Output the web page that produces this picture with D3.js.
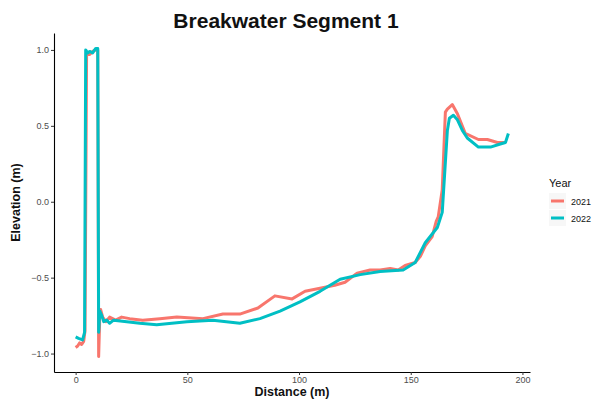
<!DOCTYPE html>
<html>
<head>
<meta charset="utf-8">
<script src="https://cdn.jsdelivr.net/npm/d3@7"></script>
<style>
  html, body { margin: 0; padding: 0; background: #fff; }
  svg { display: block; font-family: "Liberation Sans", Arial, sans-serif; }
</style>
</head>
<body>
<svg id="chart" width="603" height="405"></svg>
<script>
// Cross-shore profile surveys along Breakwater Segment 1
const dist2021 = [0, 0.9, 1.8, 2.7, 3.6, 4.2, 4.9, 6.3, 7.6, 9.0, 9.9, 10.3, 10.8, 11.2, 12.1, 13.5, 15.2, 17.9, 20.6, 24.2, 30.0, 37.7, 45.3, 57.0, 65.9, 73.5, 81.6, 89.2, 96.9, 102.7, 109.4, 116.0, 120.6, 126.0, 131.8, 136.3, 140.8, 144.4, 147.5, 152.0, 154.3, 156.5, 159.6, 161.4, 162.3, 164.1, 165.5, 166.4, 168.6, 170.9, 174.4, 180.3, 184.3, 188.8, 192.4];
const elev2021 = [-0.96, -0.95, -0.93, -0.94, -0.92, -0.85, 0.97, 0.97, 0.99, 1.0, 1.0, -1.02, -0.76, -0.71, -0.76, -0.79, -0.76, -0.78, -0.76, -0.77, -0.78, -0.77, -0.76, -0.77, -0.74, -0.74, -0.70, -0.62, -0.64, -0.59, -0.57, -0.55, -0.53, -0.47, -0.45, -0.45, -0.44, -0.45, -0.42, -0.40, -0.36, -0.29, -0.23, -0.13, -0.10, 0.08, 0.59, 0.61, 0.64, 0.58, 0.45, 0.41, 0.41, 0.39, 0.39];

const dist2022 = [0, 1.3, 3.1, 4.0, 4.5, 5.4, 6.3, 7.6, 9.0, 9.9, 10.3, 10.8, 11.7, 12.6, 13.9, 15.2, 17.0, 22.9, 28.7, 36.3, 49.8, 61.4, 73.5, 82.5, 91.5, 100.4, 109.4, 118.4, 127.4, 136.3, 146.6, 152.0, 156.5, 161.9, 164.1, 166.4, 167.3, 169.1, 170.9, 173.1, 175.3, 180.3, 185.7, 190.1, 192.4, 193.7];
const elev2022 = [-0.89, -0.90, -0.91, -0.86, 1.0, 0.98, 0.99, 0.98, 1.01, 1.01, -0.86, -0.72, -0.75, -0.79, -0.78, -0.80, -0.78, -0.79, -0.80, -0.81, -0.79, -0.78, -0.80, -0.77, -0.72, -0.66, -0.59, -0.51, -0.48, -0.46, -0.45, -0.40, -0.27, -0.17, -0.07, 0.47, 0.55, 0.57, 0.54, 0.47, 0.42, 0.36, 0.36, 0.38, 0.39, 0.45];

const years = ["2021", "2022"];
const yearColors = ["#F8766D", "#00BFC4"];
const xTicks = [0, 50, 100, 150, 200];
const yTicks = [-1.0, -0.5, 0.0, 0.5, 1.0];

const series = [
  { year: years[0], color: yearColors[0], pts: dist2021.map((d, i) => [d, elev2021[i]]) },
  { year: years[1], color: yearColors[1], pts: dist2022.map((d, i) => [d, elev2022[i]]) }
];

const panel = { left: 54, right: 530, top: 33, bottom: 372 };

// 5% padding on both ends of each axis
function padded(values) {
  const [lo, hi] = d3.extent(values);
  const pad = (hi - lo) * 0.05;
  return [lo - pad, hi + pad];
}

const allX = dist2021.concat(dist2022);
const allY = elev2021.concat(elev2022);
const x = d3.scaleLinear().domain(padded(allX)).range([panel.left, panel.right]);
const y = d3.scaleLinear().domain(padded(allY)).range([panel.bottom, panel.top]);

const svg = d3.select("#chart");

// Title
svg.append("text")
  .attr("x", 286)
  .attr("y", 28)
  .attr("text-anchor", "middle")
  .attr("font-size", 21)
  .attr("font-weight", "bold")
  .attr("fill", "#111")
  .text("Breakwater Segment 1");

// Profile lines
const line = d3.line().x(d => x(d[0])).y(d => y(d[1]));
svg.append("g").selectAll("path")
  .data(series)
  .join("path")
  .attr("d", d => line(d.pts))
  .attr("fill", "none")
  .attr("stroke", d => d.color)
  .attr("stroke-width", 3)
  .attr("stroke-linejoin", "round")
  .attr("stroke-linecap", "butt");

// Axes
const xAxis = svg.append("g")
  .attr("transform", `translate(0,${panel.bottom})`)
  .call(d3.axisBottom(x).tickValues(xTicks).tickFormat(d3.format("d")).tickSize(3).tickPadding(2).tickSizeOuter(0));
const yAxis = svg.append("g")
  .attr("transform", `translate(${panel.left},0)`)
  .call(d3.axisLeft(y).tickValues(yTicks).tickFormat(d3.format(".1f")).tickSize(3).tickPadding(2).tickSizeOuter(0));

[xAxis, yAxis].forEach(g => {
  g.select(".domain").attr("stroke", "#000").attr("stroke-width", 1.1);
  g.selectAll(".tick line").attr("stroke", "#333").attr("stroke-width", 1);
  g.selectAll(".tick text")
    .attr("fill", "#4D4D4D")
    .attr("font-size", 9)
    .attr("font-family", "Liberation Sans, Arial, sans-serif");
});

// Axis titles
svg.append("text")
  .attr("x", (panel.left + panel.right) / 2)
  .attr("y", 396)
  .attr("text-anchor", "middle")
  .attr("font-size", 12.5)
  .attr("font-weight", "bold")
  .attr("fill", "#111")
  .text("Distance (m)");

svg.append("text")
  .attr("transform", `translate(20,${(panel.top + panel.bottom) / 2}) rotate(-90)`)
  .attr("text-anchor", "middle")
  .attr("font-size", 12.5)
  .attr("font-weight", "bold")
  .attr("fill", "#111")
  .text("Elevation (m)");

// Legend
const legend = svg.append("g").attr("transform", "translate(549,0)");
legend.append("text")
  .attr("x", 0).attr("y", 187)
  .attr("font-size", 11)
  .attr("fill", "#111")
  .text("Year");
const items = legend.selectAll("g.item")
  .data(series)
  .join("g")
  .attr("class", "item")
  .attr("transform", (d, i) => `translate(0,${201 + i * 17})`);
items.append("rect")
  .attr("x", 0).attr("y", -8).attr("width", 17).attr("height", 16)
  .attr("fill", "#f7f7f7");
items.append("line")
  .attr("x1", 2).attr("x2", 15).attr("y1", 0).attr("y2", 0)
  .attr("stroke", d => d.color)
  .attr("stroke-width", 3);
items.append("text")
  .attr("x", 22).attr("y", 3.5)
  .attr("font-size", 9)
  .attr("fill", "#111")
  .text(d => d.year);
</script>
</body>
</html>
